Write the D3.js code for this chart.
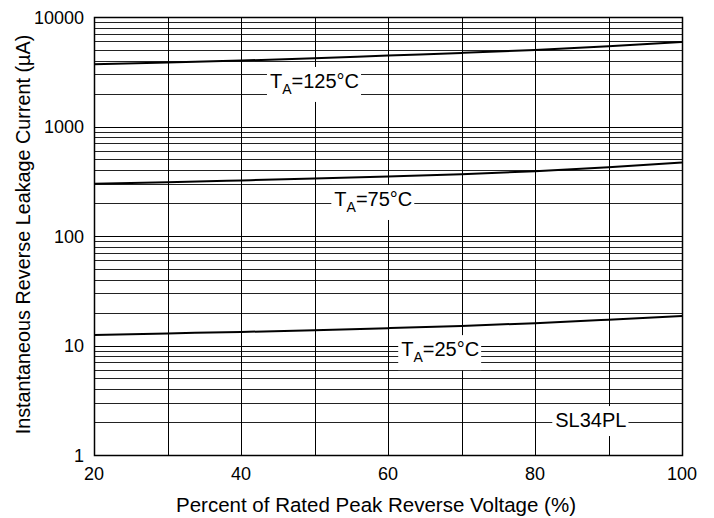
<!DOCTYPE html>
<html><head><meta charset="utf-8">
<script src="https://cdn.jsdelivr.net/npm/d3@7"></script>
<style>body{margin:0;background:#fff}svg{display:block;font-family:"Liberation Sans",Arial,sans-serif}</style>
</head><body>
<svg id="c" width="714" height="518"></svg>
<script>
const xVals = [20, 30, 40, 50, 60, 70, 80, 90, 100];
const curve125 = [3700, 3850, 4000, 4200, 4450, 4700, 5000, 5400, 5900];
const curve75 = [300, 310, 322, 335, 350, 367, 390, 425, 470];
const curve25 = [12.5, 12.9, 13.3, 13.8, 14.4, 15.1, 16.0, 17.2, 18.6];
const xTickLabels = [20, 40, 60, 80, 100];
const yTickLabels = [1, 10, 100, 1000, 10000];
const curveLabels = [
  {t: "125°C", x: 50, y: 2250},
  {t: "75°C", x: 58, y: 188},
  {t: "25°C", x: 67.1, y: 8.0}
];
const partLabel = {t: "SL34PL", x: 87.6, y: 1.80};

const svg = d3.select("#c");
const L = 94, R = 682, T = 17, B = 455;
const x = d3.scaleLinear().domain([20, 100]).range([L, R]);
const y = d3.scaleLog().domain([1, 10000]).range([B, T]);

const g = svg.append("g");
const minor = [];
for (let d = 1; d < 10000; d *= 10) for (let k = 2; k <= 9; k++) minor.push(d * k);
g.selectAll(".hm").data(minor).enter().append("line")
  .attr("x1", L).attr("x2", R)
  .attr("y1", d => Math.round(y(d)) + 0.5).attr("y2", d => Math.round(y(d)) + 0.5)
  .attr("stroke", "#222").attr("stroke-width", 1);
g.selectAll(".hM").data(yTickLabels).enter().append("line")
  .attr("x1", L).attr("x2", R)
  .attr("y1", d => Math.round(y(d)) + 0.5).attr("y2", d => Math.round(y(d)) + 0.5)
  .attr("stroke", "#000").attr("stroke-width", 1);
g.selectAll(".v").data(xVals).enter().append("line")
  .attr("x1", d => Math.round(x(d)) + 0.5).attr("x2", d => Math.round(x(d)) + 0.5)
  .attr("y1", T).attr("y2", B)
  .attr("stroke", "#000").attr("stroke-width", 1);

const line = d3.line().x((d, i) => x(xVals[i])).y(d => y(d)).curve(d3.curveMonotoneX);
[curve125, curve75, curve25].forEach(c => {
  svg.append("path").attr("d", line(c)).attr("fill", "none").attr("stroke", "#000").attr("stroke-width", 2);
});

svg.append("rect").attr("x", L + 0.5).attr("y", T + 0.5).attr("width", R - L).attr("height", B - T)
  .attr("fill", "none").attr("stroke", "#000").attr("stroke-width", 1.5);

function boxLabel(parts, cx, cy) {
  const t = svg.append("text").attr("x", x(cx)).attr("y", y(cy)).attr("text-anchor", "middle")
    .attr("font-size", 20).attr("fill", "#000");
  parts(t);
  const bb = t.node().getBBox();
  svg.insert("rect", "text").attr("x", bb.x - 3).attr("y", bb.y - 3).attr("width", bb.width + 5).attr("height", bb.height + 8).attr("fill", "#fff");
}
curveLabels.forEach(l => {
  boxLabel(t => {
    t.append("tspan").text("T");
    t.append("tspan").attr("font-size", 14).attr("dy", 6).text("A");
    t.append("tspan").attr("dy", -6).text("=" + l.t);
  }, l.x, l.y);
});
boxLabel(t => t.text(partLabel.t), partLabel.x, partLabel.y);

svg.selectAll(".xt").data(xTickLabels).enter().append("text")
  .attr("x", d => x(d)).attr("y", B + 25).attr("text-anchor", "middle")
  .attr("font-size", 18).text(d => d);
svg.selectAll(".yt").data(yTickLabels).enter().append("text")
  .attr("x", L - 10).attr("y", d => y(d) + 6.5).attr("text-anchor", "end")
  .attr("font-size", 18).text(d => d);

svg.append("text").attr("x", 376).attr("y", 512).attr("text-anchor", "middle")
  .attr("font-size", 20.5).text("Percent of Rated Peak Reverse Voltage (%)");
svg.append("text").attr("transform", `translate(30,234.5) rotate(-90)`).attr("text-anchor", "middle")
  .attr("font-size", 19.8).text("Instantaneous Reverse Leakage Current (µA)");
</script>
</body></html>
